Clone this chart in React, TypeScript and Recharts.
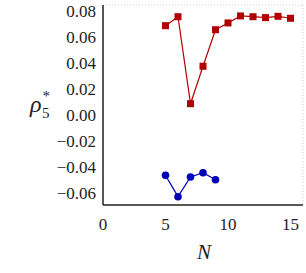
import React from 'react';
import { LineChart, Line, XAxis, YAxis, CartesianGrid, Customized } from 'recharts';

const nRed = [5, 6, 7, 8, 9, 10, 11, 12, 13, 14, 15];
const rhoRed = [0.0687, 0.0756, 0.0087, 0.0375, 0.0656, 0.0708, 0.0762, 0.0756, 0.0749, 0.0759, 0.0744];
const nBlue = [5, 6, 7, 8, 9];
const rhoBlue = [-0.0464, -0.0628, -0.0477, -0.0444, -0.0498];
const xTicks = [0, 5, 10, 15];
const yTicks = [-0.06, -0.04, -0.02, 0.0, 0.02, 0.04, 0.06, 0.08];

const redData = nRed.map((n, i) => ({ n, v: rhoRed[i] }));
const blueData = nBlue.map((n, i) => ({ n, v: rhoBlue[i] }));

const RED = '#b00000';
const BLUE = '#0000b8';
const FONT = 'Liberation Serif, DejaVu Serif, serif';

const fmtY = (v: number) => {
  const s = Math.abs(v).toFixed(2);
  return v < -1e-9 ? '\u2212' + s : s;
};

const Square = (props: any) => {
  const { cx, cy } = props;
  if (cx == null || cy == null) return null;
  return <rect x={cx - 3.5} y={cy - 3.5} width={7} height={7} fill={RED} />;
};

const Dot = (props: any) => {
  const { cx, cy } = props;
  if (cx == null || cy == null) return null;
  return <circle cx={cx} cy={cy} r={3.8} fill={BLUE} />;
};

const renderXTick = (props: any) => {
  const { x, y, payload } = props;
  return (
    <text key={'x' + payload.value} x={x} y={y + 15} textAnchor="middle" fontFamily={FONT} fontSize={17} fill="#222">
      {String(payload.value)}
    </text>
  );
};

const renderYTick = (props: any) => {
  const { x, y, payload } = props;
  return (
    <text key={'y' + payload.value} x={x + 1} y={y + 6} textAnchor="end" fontFamily={FONT} fontSize={17} fill="#222">
      {fmtY(payload.value)}
    </text>
  );
};

const YLabel = () => (
  <text x={30} y={112} fontFamily={FONT} fill="#222">
    <tspan fontSize={24} fontStyle="italic">ρ</tspan>
    <tspan fontSize={15} dx={1} dy={-11}>*</tspan>
    <tspan fontSize={15} dx={-8} dy={17}>5</tspan>
  </text>
);

const XLabel = () => (
  <text x={204} y={259} textAnchor="middle" fontFamily={FONT} fontSize={21} fontStyle="italic" fill="#222">
    N
  </text>
);

export default function App() {
  return (
    <div style={{ position: 'absolute', left: 0, top: 0, background: '#fff', fontFamily: FONT }}>
      <LineChart width={306} height={273} margin={{ top: 5, right: 3, left: 0, bottom: 0 }}>
        <CartesianGrid stroke="#d0d0d0" strokeDasharray="1 2" />
        <XAxis
          xAxisId="b"
          dataKey="n"
          type="number"
          domain={[0, 16]}
          ticks={xTicks}
          allowDataOverflow
          axisLine={{ stroke: '#222', strokeWidth: 1.5 }}
          tickLine={false}
          tick={renderXTick}
          tickMargin={4}
          height={68}
        />
        <XAxis
          xAxisId="t"
          orientation="top"
          type="number"
          domain={[0, 16]}
          ticks={xTicks}
          tick={false}
          tickLine={false}
          height={0}
          axisLine={{ stroke: '#222', strokeWidth: 1.5 }}
        />
        <YAxis
          yAxisId="l"
          type="number"
          domain={[-0.0692, 0.0846]}
          ticks={yTicks}
          allowDataOverflow
          width={103}
          axisLine={{ stroke: '#222', strokeWidth: 1.5 }}
          tickLine={false}
          tickMargin={2}
          tick={renderYTick}
        />
        <YAxis
          yAxisId="r"
          orientation="right"
          type="number"
          domain={[-0.0692, 0.0846]}
          ticks={yTicks}
          tick={false}
          tickLine={false}
          width={0}
          axisLine={{ stroke: '#222', strokeWidth: 1.5 }}
        />
        <Line
          xAxisId="b"
          yAxisId="l"
          data={redData}
          dataKey="v"
          stroke={RED}
          strokeWidth={1.2}
          dot={<Square />}
          isAnimationActive={false}
        />
        <Line
          xAxisId="b"
          yAxisId="l"
          data={blueData}
          dataKey="v"
          stroke={BLUE}
          strokeWidth={1.2}
          dot={<Dot />}
          isAnimationActive={false}
        />
        <Customized component={YLabel} />
        <Customized component={XLabel} />
      </LineChart>
    </div>
  );
}
